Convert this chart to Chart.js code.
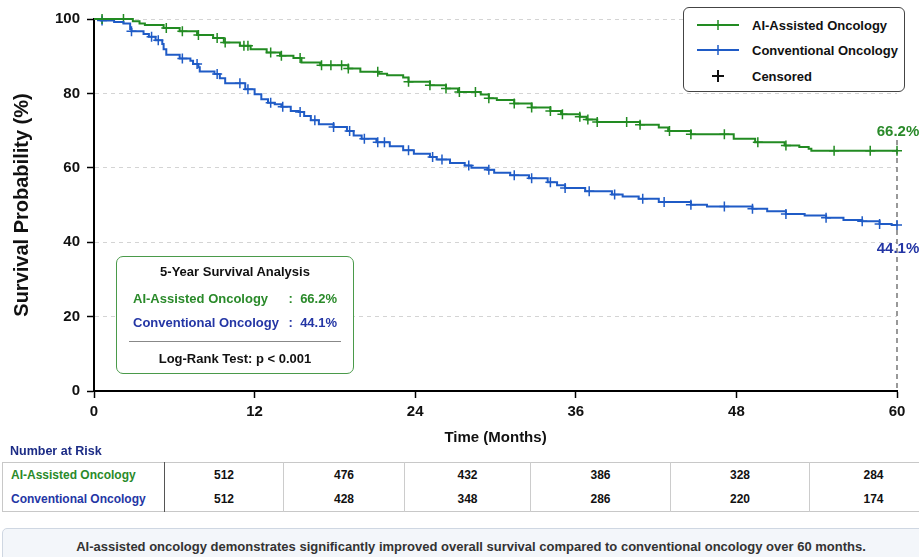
<!DOCTYPE html>
<html>
<head>
<meta charset="utf-8">
<script src="https://cdn.jsdelivr.net/npm/chart.js@4.4.1/dist/chart.umd.min.js"></script>
<style>
  html, body { margin: 0; padding: 0; background: #fff; }
  body { width: 919px; height: 557px; overflow: hidden; position: relative; font-family: "Liberation Sans", Arial, sans-serif; color: #111; }
  #chartWrap { position: absolute; left: 0; top: 0; width: 919px; height: 449px; }
  .legend { position: absolute; left: 683px; top: 7px; width: 220px; height: 83px; border: 1.5px solid #444; border-radius: 6px; background: #fff; }
  .legend .row { position: absolute; left: 13px; height: 20px; display: flex; align-items: center; font-size: 13px; font-weight: bold; color: #111; }
  .legend svg { width: 42px; height: 14px; margin-right: 13px; }
  .stats { position: absolute; left: 116px; top: 256px; width: 236px; height: 116px; border: 1.5px solid #4a9a4a; border-radius: 7px; background: #fff; font-size: 13px; font-weight: bold; }
  .stats .title { position: absolute; top: 7px; left: 0; right: 0; text-align: center; color: #111; }
  .stats .line { position: absolute; left: 16px; right: 16px; display: flex; white-space: pre; }
  .stats .line .lbl { flex: 1; }
  .stats .sep { position: absolute; left: 12px; right: 12px; top: 84px; border-top: 1px solid #888; }
  .stats .test { position: absolute; top: 94px; left: 0; right: 0; text-align: center; color: #111; }
  .riskTitle { position: absolute; left: 10px; top: 444px; font-size: 12.5px; font-weight: bold; color: #1c2c86; }
  table.risk { position: absolute; left: 2px; top: 462px; width: 935px; border-collapse: collapse; font-size: 12px; font-weight: bold; table-layout: fixed; border: 1px solid #c8c8c8; }
  table.risk td { height: 24px; padding: 0; text-align: center; border-left: 1px solid #ccc; color: #111; }
  table.risk td.name { text-align: left; padding-left: 8px; border-left: none; border-right: 1px solid #555; }
  .foot { position: absolute; left: 2px; top: 528px; width: 936px; height: 60px; background: #f3f6fa; border: 1px solid #cfd7e2; border-radius: 5px; }
  .foot div { position: absolute; top: 10px; left: 0; right: 0; text-align: center; font-size: 13px; font-weight: bold; color: #333; }
</style>
</head>
<body>
<div id="chartWrap"><canvas id="km"></canvas></div>

<div class="legend">
  <div class="row" style="top:7px"><svg viewBox="0 0 42 14"><line x1="0" y1="7" x2="42" y2="7" stroke="#228B22" stroke-width="2"/><line x1="21" y1="2" x2="21" y2="12" stroke="#228B22" stroke-width="1.5"/></svg>AI-Assisted Oncology</div>
  <div class="row" style="top:32px"><svg viewBox="0 0 42 14"><line x1="0" y1="7" x2="42" y2="7" stroke="#1f5bc6" stroke-width="2"/><line x1="21" y1="2" x2="21" y2="12" stroke="#1f5bc6" stroke-width="1.5"/></svg>Conventional Oncology</div>
  <div class="row" style="top:58px"><svg viewBox="0 0 42 14"><line x1="15" y1="7" x2="27" y2="7" stroke="#111" stroke-width="2"/><line x1="21" y1="1" x2="21" y2="13" stroke="#111" stroke-width="2"/></svg>Censored</div>
</div>

<div class="stats">
  <div class="title">5-Year Survival Analysis</div>
  <div class="line" style="top:34px;color:#2a8a2a"><span class="lbl">AI-Assisted Oncology</span><span id="aiVal"></span></div>
  <div class="line" style="top:58px;color:#2436a5"><span class="lbl">Conventional Oncology</span><span id="convVal"></span></div>
  <div class="sep"></div>
  <div class="test">Log-Rank Test: p &lt; 0.001</div>
</div>

<div class="riskTitle">Number at Risk</div>
<table class="risk" id="riskTable"></table>

<div class="foot"><div>AI-assisted oncology demonstrates significantly improved overall survival compared to conventional oncology over 60 months.</div></div>

<script>
// Kaplan-Meier step points (month, survival % after the drop)
const aiTimes = [0, 2.9, 3.4, 3.8, 5.2, 6.4, 7.7, 8.9, 9.7, 10.9, 11.7, 12.9, 13.9, 14.9, 15.5, 16.9, 19.0, 19.9, 21.3, 21.9, 23.1, 23.5, 25.1, 26.3, 27.2, 28.9, 29.5, 30.1, 31.4, 32.7, 34.1, 34.9, 36.3, 36.8, 37.6, 40.8, 42.2, 42.9, 44.6, 47.8, 49.4, 51.6, 52.7, 53.4, 53.6, 60];
const aiSurv = [100, 99.4, 98.8, 98.4, 97.6, 96.7, 95.7, 94.9, 93.7, 92.8, 91.9, 91.0, 90.1, 89.5, 88.3, 87.6, 86.7, 85.8, 85.3, 84.9, 84.3, 83.1, 82.2, 81.3, 80.4, 79.7, 78.7, 78.2, 77.3, 76.2, 75.3, 74.4, 73.7, 73.0, 72.3, 71.6, 70.8, 69.9, 69.0, 67.8, 66.9, 66.0, 65.6, 65.1, 64.6, 64.6];
const aiCensored = [0.6, 2.2, 5.4, 6.6, 7.8, 9.2, 9.8, 11.2, 11.5, 13.2, 14.0, 15.4, 17.0, 17.7, 18.5, 19.0, 21.2, 23.5, 25.1, 26.3, 27.3, 28.5, 29.5, 31.4, 32.7, 34.1, 35.0, 36.3, 36.9, 37.6, 39.8, 40.8, 43.0, 44.6, 47.1, 49.6, 51.7, 55.3, 58.0, 60];

const convTimes = [0, 0.5, 1.5, 2.2, 2.7, 2.8, 3.7, 4.1, 4.6, 5.1, 5.2, 5.4, 6.4, 7.2, 7.4, 7.8, 7.9, 9.0, 9.4, 9.8, 11.3, 12.0, 12.5, 13.0, 13.5, 14.0, 14.7, 15.3, 15.7, 16.2, 16.8, 17.9, 18.9, 19.4, 20.0, 21.1, 22.1, 23.1, 23.9, 25.1, 25.6, 26.6, 27.7, 28.2, 29.4, 29.9, 31.1, 32.5, 33.9, 34.6, 35.2, 36.7, 38.7, 39.5, 40.7, 42.2, 44.6, 45.8, 49.2, 50.3, 51.7, 53.1, 54.7, 56.0, 57.4, 58.7, 59.6, 60];
const convSurv = [100, 99.6, 99.2, 98.8, 97.3, 96.7, 96.0, 95.2, 94.3, 93.3, 91.9, 90.4, 89.4, 88.8, 87.9, 87.0, 85.9, 85.2, 84.1, 82.7, 81.1, 79.8, 78.4, 77.5, 77.1, 76.4, 75.3, 75.0, 73.9, 72.8, 71.7, 71.0, 69.9, 68.7, 67.8, 66.9, 65.8, 64.7, 63.8, 62.9, 62.2, 61.3, 60.6, 60.0, 59.5, 58.7, 58.0, 57.2, 56.1, 55.3, 54.6, 53.7, 52.8, 52.3, 51.7, 50.8, 50.1, 49.6, 49.0, 48.3, 47.6, 47.2, 46.6, 46.0, 45.6, 44.9, 44.6, 44.6];
const convCensored = [0.6, 2.8, 4.3, 4.8, 6.6, 7.7, 9.2, 10.9, 11.5, 13.2, 14.1, 15.4, 16.5, 17.9, 19.1, 20.2, 21.2, 21.7, 23.5, 25.3, 26.0, 28.0, 29.5, 31.4, 32.7, 34.1, 35.2, 37.0, 38.9, 41.0, 42.6, 44.6, 47.1, 49.2, 51.7, 54.7, 57.4, 58.7, 60];

const fiveYearAI = 66.2;
const fiveYearConv = 44.1;

const riskMonths = [0, 12, 24, 36, 48, 60];
const riskAI = [512, 476, 432, 386, 328, 284];
const riskConv = [512, 428, 348, 286, 220, 174];

const GREEN = '#228B22';
const BLUE = '#1f5bc6';
const GREEN_TXT = '#2a8a2a';
const BLUE_TXT = '#2436a5';
const FONT = '"Liberation Sans", Arial, sans-serif';

function survAt(times, surv, t) {
  let s = surv[0];
  for (let i = 0; i < times.length; i++) {
    if (times[i] <= t) s = surv[i];
  }
  return s;
}

document.getElementById('aiVal').textContent = ':  ' + fiveYearAI.toFixed(1) + '%';
document.getElementById('convVal').textContent = ':  ' + fiveYearConv.toFixed(1) + '%';

// risk table
const table = document.getElementById('riskTable');
const colWidths = [162, 119, 121, 126, 140, 139, 128];
let html = '<colgroup>' + colWidths.map(w => '<col style="width:' + w + 'px">').join('') + '</colgroup>';
html += '<tr><td class="name" style="color:' + GREEN_TXT + '">AI-Assisted Oncology</td>' +
  riskAI.map(v => '<td>' + v + '</td>').join('') + '</tr>';
html += '<tr><td class="name" style="color:' + BLUE_TXT + '">Conventional Oncology</td>' +
  riskConv.map(v => '<td>' + v + '</td>').join('') + '</tr>';
table.innerHTML = html;

// end-of-follow-up labels
const endLabels = {
  id: 'endLabels',
  afterDatasetsDraw(chart) {
    const { ctx, scales: { x, y } } = chart;
    const px = x.getPixelForValue(60);
    ctx.save();
    ctx.font = 'bold 15px ' + FONT;
    ctx.textAlign = 'center';
    ctx.textBaseline = 'middle';
    ctx.fillStyle = GREEN_TXT;
    ctx.fillText(fiveYearAI.toFixed(1) + '%', px + 1, y.getPixelForValue(aiSurv[aiSurv.length - 1]) - 19);
    ctx.fillStyle = BLUE_TXT;
    ctx.fillText(fiveYearConv.toFixed(1) + '%', px + 1, y.getPixelForValue(convSurv[convSurv.length - 1]) + 24);
    ctx.restore();
  }
};

const ctx = document.getElementById('km').getContext('2d');
new Chart(ctx, {
  type: 'line',
  data: {
    datasets: [
      {
        label: 'AI-Assisted Oncology',
        data: aiTimes.map((t, i) => ({ x: t, y: aiSurv[i] })),
        borderColor: GREEN,
        borderWidth: 2,
        stepped: 'before',
        pointRadius: 0,
        fill: false,
        clip: false
      },
      {
        label: 'Conventional Oncology',
        data: convTimes.map((t, i) => ({ x: t, y: convSurv[i] })),
        borderColor: BLUE,
        borderWidth: 2,
        stepped: 'before',
        pointRadius: 0,
        fill: false,
        clip: false
      },
      {
        label: 'AI censored',
        data: aiCensored.map(t => ({ x: t, y: survAt(aiTimes, aiSurv, t) })),
        showLine: false,
        pointStyle: 'cross',
        pointRadius: 5,
        borderColor: GREEN,
        borderWidth: 1.5,
        clip: false
      },
      {
        label: 'Conventional censored',
        data: convCensored.map(t => ({ x: t, y: survAt(convTimes, convSurv, t) })),
        showLine: false,
        pointStyle: 'cross',
        pointRadius: 5,
        borderColor: BLUE,
        borderWidth: 1.5,
        clip: false
      },
      {
        label: '60 month marker',
        data: [{ x: 60, y: 67.5 }, { x: 60, y: 0 }],
        borderColor: '#555',
        borderWidth: 1.2,
        borderDash: [5, 4],
        pointRadius: 0,
        clip: false
      }
    ]
  },
  options: {
    responsive: true,
    maintainAspectRatio: false,
    animation: false,
    layout: { padding: { top: 19, right: 22, left: 10, bottom: 2 } },
    plugins: {
      legend: { display: false },
      tooltip: { enabled: false }
    },
    scales: {
      x: {
        type: 'linear',
        min: 0,
        max: 60,
        ticks: { stepSize: 12, color: '#111', padding: 5, font: { family: FONT, size: 15, weight: 'bold' } },
        grid: { drawOnChartArea: false, drawTicks: true, tickLength: 7, tickColor: '#000', tickWidth: 1.5 },
        border: { display: true, color: '#000', width: 2 },
        title: { display: true, text: 'Time (Months)', color: '#111', padding: { top: 3, bottom: 0 }, font: { family: FONT, size: 15, weight: 'bold' } }
      },
      y: {
        min: 0,
        max: 100,
        ticks: { stepSize: 20, color: '#111', padding: 7, font: { family: FONT, size: 15, weight: 'bold' } },
        grid: { color: '#d4d4d4', lineWidth: 1, drawTicks: true, tickLength: 7, tickColor: '#000', tickWidth: 1.5 },
        border: { display: true, color: '#000', width: 2, dash: [4, 4] },
        title: { display: true, text: 'Survival Probability (%)', color: '#111', padding: { top: 0, bottom: 14 }, font: { family: FONT, size: 20, weight: 'bold' } }
      }
    }
  },
  plugins: [endLabels]
});
</script>
</body>
</html>
